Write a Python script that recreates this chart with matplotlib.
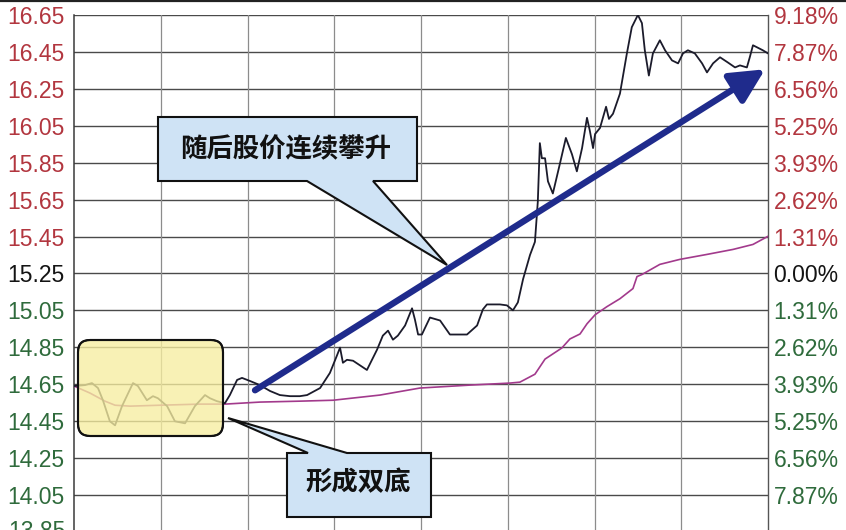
import matplotlib
matplotlib.use("Agg")
import matplotlib.pyplot as plt
from matplotlib.patches import Polygon, FancyBboxPatch, FancyArrowPatch
from matplotlib.lines import Line2D

# ---------------- data ----------------
t_price = [0, 3.8, 6.2, 8.3, 10.0, 12.4, 14.2, 16.6, 20.4, 22.1,
           25.2, 27.3, 29.0, 32.2, 34.9, 38.4, 41.8, 45.3, 47.0, 49.4,
           52.2, 53.9, 56.4, 58.1, 60.9, 64.3, 67.8, 71.2, 74.7, 78.1,
           80.6, 85.1, 88.5, 90.9, 92.0, 93.0, 94.4, 96.5, 101.3, 104.8,
           106.8, 108.6, 110.3, 112.0, 114.5, 116.9, 117.9, 119.0, 120.3, 123.1,
           126.6, 130.0, 135.9, 139.4, 141.4, 142.8, 147.3, 149.7, 151.8, 153.5,
           155.3, 157.7, 159.4, 160.4, 161.1, 161.8, 162.9, 163.9, 165.6, 168.0,
           170.1, 172.2, 173.9, 175.7, 177.4, 178.4, 179.5, 180.2, 181.9, 184.0,
           185.0, 186.4, 188.8, 191.2, 192.9, 195.0, 196.4, 197.4, 198.8, 200.2,
           202.6, 204.4, 206.8, 208.9, 210.6, 212.3, 214.7, 217.2, 218.9, 221.0,
           223.4, 226.1, 228.6, 230.3, 232.7, 233.7, 234.8, 236.2, 238.2, 240.0]
price = [14.640, 14.645, 14.656, 14.629, 14.563, 14.449, 14.427, 14.531, 14.656, 14.640,
         14.563, 14.585, 14.574, 14.531, 14.449, 14.438, 14.531, 14.591, 14.574, 14.558,
         14.547, 14.591, 14.673, 14.684, 14.667, 14.645, 14.613, 14.591, 14.585, 14.585,
         14.591, 14.629, 14.711, 14.804, 14.848, 14.766, 14.782, 14.777, 14.727, 14.837,
         14.913, 14.940, 14.891, 14.913, 14.968, 15.061, 15.000, 14.919, 14.919, 15.011,
         14.995, 14.919, 14.919, 14.968, 15.055, 15.082, 15.082, 15.077, 15.050, 15.093,
         15.219, 15.350, 15.421, 15.640, 15.956, 15.874, 15.874, 15.749, 15.683, 15.842,
         15.984, 15.896, 15.803, 15.929, 16.093, 16.022, 15.929, 16.005, 16.038, 16.153,
         16.087, 16.115, 16.224, 16.442, 16.584, 16.650, 16.606, 16.459, 16.322, 16.442,
         16.513, 16.459, 16.404, 16.388, 16.442, 16.459, 16.442, 16.388, 16.339, 16.388,
         16.421, 16.393, 16.366, 16.377, 16.366, 16.421, 16.486, 16.475, 16.459, 16.442]

t_avg = [0, 5.5, 10.7, 14.2, 19.4, 29.7, 43.6, 52.2, 64.3, 78.1,
         89.6, 105.8, 119.6, 136.9, 150.8, 154.2, 159.4, 162.9, 168.7, 171.5,
         175.0, 177.4, 180.2, 184.3, 188.8, 193.3, 194.7, 196.4, 202.6, 209.5,
         218.9, 227.9, 234.8, 240.0]
avg_price = [14.640, 14.602, 14.558, 14.536, 14.531, 14.536, 14.542, 14.542, 14.553, 14.558,
             14.563, 14.591, 14.629, 14.645, 14.656, 14.661, 14.704, 14.786, 14.846, 14.895,
             14.922, 14.977, 15.026, 15.070, 15.113, 15.168, 15.233, 15.244, 15.299, 15.326,
             15.353, 15.380, 15.407, 15.451]

left_ticks = [16.65, 16.45, 16.25, 16.05, 15.85, 15.65, 15.45, 15.25,
              15.05, 14.85, 14.65, 14.45, 14.25, 14.05]
left_labels = ["16.65", "16.45", "16.25", "16.05", "15.85", "15.65", "15.45", "15.25",
               "15.05", "14.85", "14.65", "14.45", "14.25", "14.05"]
right_labels = ["9.18%", "7.87%", "6.56%", "5.25%", "3.93%", "2.62%", "1.31%", "0.00%",
                "1.31%", "2.62%", "3.93%", "5.25%", "6.56%", "7.87%"]
time_grid = [0, 30, 60, 90, 120, 150, 180, 210, 240]
prev_close = 15.25

arrow_start = (62.6, 14.617)
arrow_end = (239.0, 16.356)

text_rise = "随后股价连续攀升"
text_bottom = "形成双底"

# ---------------- figure ----------------
W, H = 846, 530
fig = plt.figure(figsize=(W / 100, H / 100), dpi=100)
fig.patch.set_facecolor("white")

ax = fig.add_axes([74 / W, 0, 694 / W, (H - 15) / H])
ax.set_xlim(0, 240)
ax.set_ylim(13.86, 16.65)
ax.set_facecolor("white")

for v in left_ticks:
    ax.axhline(v, color="#4a4a4a", lw=1.0, zorder=1)
for tg in time_grid[1:-1]:
    ax.axvline(tg, color="#8c8c8c", lw=0.9, zorder=1)

for s in ["top", "bottom"]:
    ax.spines[s].set_visible(False)
ax.spines["left"].set_color("#3a3a3a")
ax.spines["right"].set_color("#555555")
ax.spines["left"].set_linewidth(1.1)
ax.spines["right"].set_linewidth(1.0)

ax.set_xticks([])
ax.set_yticks(left_ticks)
ax.set_yticklabels(left_labels)
ax.tick_params(axis="y", length=0, pad=7, labelsize=16.5)

red, black, green = "#b2363f", "#141414", "#2f6b3c"

def col(v):
    if v > prev_close + 1e-9:
        return red
    if abs(v - prev_close) < 1e-9:
        return black
    return green

for lab, v in zip(ax.get_yticklabels(), left_ticks):
    lab.set_fontfamily("Liberation Sans")
    lab.set_color(col(v))

ax2 = ax.twinx()
ax2.set_ylim(ax.get_ylim())
ax2.set_yticks(left_ticks)
ax2.set_yticklabels(right_labels)
ax2.tick_params(axis="y", length=0, pad=4, labelsize=16.5)
for s in ["top", "bottom", "left", "right"]:
    ax2.spines[s].set_visible(False)
for lab, v in zip(ax2.get_yticklabels(), left_ticks):
    lab.set_fontfamily("Liberation Sans")
    lab.set_color(col(v))

# cut-off bottom label
ax.text(-0.012, 13.85, "13.85", transform=ax.get_yaxis_transform(), ha="right",
        va="center", fontsize=16.5, family="Liberation Sans", color=green, clip_on=False)

# lines
ax.plot(t_avg, avg_price, color="#a23a8c", lw=1.2, zorder=3)
ax.plot(t_price, price, color="#1b1b2b", lw=1.3, zorder=4)

# arrow
arr = FancyArrowPatch(arrow_start, arrow_end, arrowstyle="-|>,head_length=1.3,head_width=0.65",
                      mutation_scale=16, lw=4.6, color="#1f2b8c", zorder=6,
                      shrinkA=0, shrinkB=0, capstyle="round")
ax.add_patch(arr)

# helper: pixel coords (from top-left) -> inches for dpi_scale_trans
def P(x, y):
    return (x / 100.0, (H - y) / 100.0)

tr = fig.dpi_scale_trans

# yellow box
yb = FancyBboxPatch(P(78 + 0, 436), (223 - 78) / 100.0, (436 - 340) / 100.0,
                    boxstyle="round,pad=0,rounding_size=0.12", transform=tr,
                    facecolor="#f7eea0", edgecolor="#111111", lw=1.5, alpha=0.78,
                    zorder=5, clip_on=False)
ax.add_patch(yb)
yb2 = FancyBboxPatch(P(78 + 0, 436), (223 - 78) / 100.0, (436 - 340) / 100.0,
                     boxstyle="round,pad=0,rounding_size=0.12", transform=tr,
                     facecolor="none", edgecolor="#111111", lw=1.5,
                     zorder=5.1, clip_on=False)
ax.add_patch(yb2)

# callout 1
c1 = [P(158, 117), P(417, 117), P(417, 181), P(373, 181), P(447, 265),
      P(307, 181), P(158, 181)]
ax.add_patch(Polygon(c1, closed=True, transform=tr, facecolor="#cfe3f5",
                     edgecolor="#111111", lw=1.5, zorder=7, clip_on=False))
ax.text(*P(286, 150), text_rise, transform=tr, ha="center", va="center",
        fontsize=19, fontweight="bold", family=["Noto Sans CJK SC", "DejaVu Sans"],
        color="#111111", zorder=8, clip_on=False)

# callout 2
c2 = [P(287, 453), P(308, 453), P(228, 418), P(347, 453), P(431, 453),
      P(431, 517), P(287, 517)]
ax.add_patch(Polygon(c2, closed=True, transform=tr, facecolor="#cfe3f5",
                     edgecolor="#111111", lw=1.5, zorder=7, clip_on=False))
ax.text(*P(358, 483), text_bottom, transform=tr, ha="center", va="center",
        fontsize=19, fontweight="bold", family=["Noto Sans CJK SC", "DejaVu Sans"],
        color="#111111", zorder=8, clip_on=False)

# top border line of the picture
fig.add_artist(Line2D([0, 1], [0.998, 0.998], transform=fig.transFigure,
                      color="#222222", lw=1.6))

fig.savefig("out.png", dpi=100, facecolor="white")
